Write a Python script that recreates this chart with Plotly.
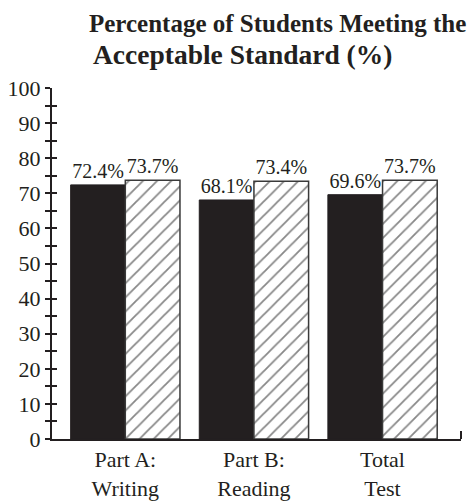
import plotly.graph_objects as go

categories = ["Part A:<br>Writing", "Part B:<br>Reading", "Total<br>Test"]
series_solid = [72.4, 68.1, 69.6]
series_hatch = [73.7, 73.4, 73.7]
y_tick_vals = [0, 10, 20, 30, 40, 50, 60, 70, 80, 90, 100]
title_lines = ["Percentage of Students Meeting the", "Acceptable Standard (%)"]

FONT = "Liberation Serif"
INK = "#231f20"

W, H = 471, 501
ML, MR, MT, MB = 52, 10, 88, 62
PW, PH = W - ML - MR, H - MT - MB

def px_x(px):
    return (px - ML) / PW

def px_y(py):
    return 1 + (MT - py) / PH

fig = go.Figure()
fig.add_trace(go.Bar(
    x=categories, y=series_solid,
    marker=dict(color=INK, line=dict(color=INK, width=1)),
    text=[f"{v:.1f}%" for v in series_solid], textposition="outside",
    textfont=dict(family=FONT, size=20, color=INK), cliponaxis=False,
    showlegend=False,
))
fig.add_trace(go.Bar(
    x=categories, y=series_hatch,
    marker=dict(color="white", line=dict(color="#3a3a3a", width=1.5),
                pattern=dict(shape="/", fgcolor="#111111", bgcolor="white", size=10, solidity=0.18)),
    text=[f"{v:.1f}%" for v in series_hatch], textposition="outside",
    textfont=dict(family=FONT, size=20, color=INK), cliponaxis=False,
    showlegend=False,
))

fig.update_layout(
    width=W, height=H,
    margin=dict(l=ML, r=MR, t=MT, b=MB),
    paper_bgcolor="white", plot_bgcolor="white",
    barmode="group", bargap=0.15, bargroupgap=0,
    font=dict(family=FONT, color=INK),
    xaxis=dict(range=[-0.57, 2.61], showline=True, linecolor=INK, linewidth=2,
               ticks="", tickfont=dict(family=FONT, size=22, color=INK), automargin=False,
               showgrid=False, zeroline=False, fixedrange=True),
    yaxis=dict(range=[0, 100], tickvals=y_tick_vals, showline=True, linecolor=INK, linewidth=2,
               ticks="outside", ticklen=5, tickwidth=2, tickcolor=INK,
               minor=dict(dtick=5, ticks="outside", ticklen=5, tickwidth=2, tickcolor=INK),
               tickfont=dict(family=FONT, size=22, color=INK), ticklabelstandoff=0,
               automargin=False, showgrid=False, zeroline=False),
    yaxis2=dict(range=[0, 100], overlaying="y", side="left", tickvals=y_tick_vals,
                ticks="inside", ticklen=5, tickwidth=2, tickcolor=INK,
                minor=dict(dtick=5, ticks="inside", ticklen=5, tickwidth=2, tickcolor=INK),
                showticklabels=False, showline=False, showgrid=False, zeroline=False),
)
# dummy trace to activate yaxis2
fig.add_trace(go.Scatter(x=[categories[0]], y=[None], yaxis="y2", showlegend=False, hoverinfo="skip"))

# title as two lines
fig.add_annotation(text=f"<b>{title_lines[0]}</b>", xref="paper", yref="paper",
                   x=px_x(277), y=px_y(24), xanchor="center", yanchor="middle",
                   showarrow=False, font=dict(family=FONT, size=25, color=INK))
fig.add_annotation(text=f"<b>{title_lines[1]}</b>", xref="paper", yref="paper",
                   x=px_x(91), y=px_y(54.5), xanchor="left", yanchor="middle",
                   showarrow=False, font=dict(family=FONT, size=27.5, color=INK))

# small upward tick at right end of x axis, and short extension left of the y axis
fig.add_shape(type="line", xref="paper", yref="paper", x0=1, x1=1, y0=0, y1=8 / PH,
              line=dict(color=INK, width=2))
fig.add_shape(type="line", xref="paper", yref="paper", x0=-5 / PW, x1=0, y0=0, y1=0,
              line=dict(color=INK, width=2))

fig.write_html("out.html", config={"displayModeBar": False},
               post_script="document.body.style.margin='0';")
